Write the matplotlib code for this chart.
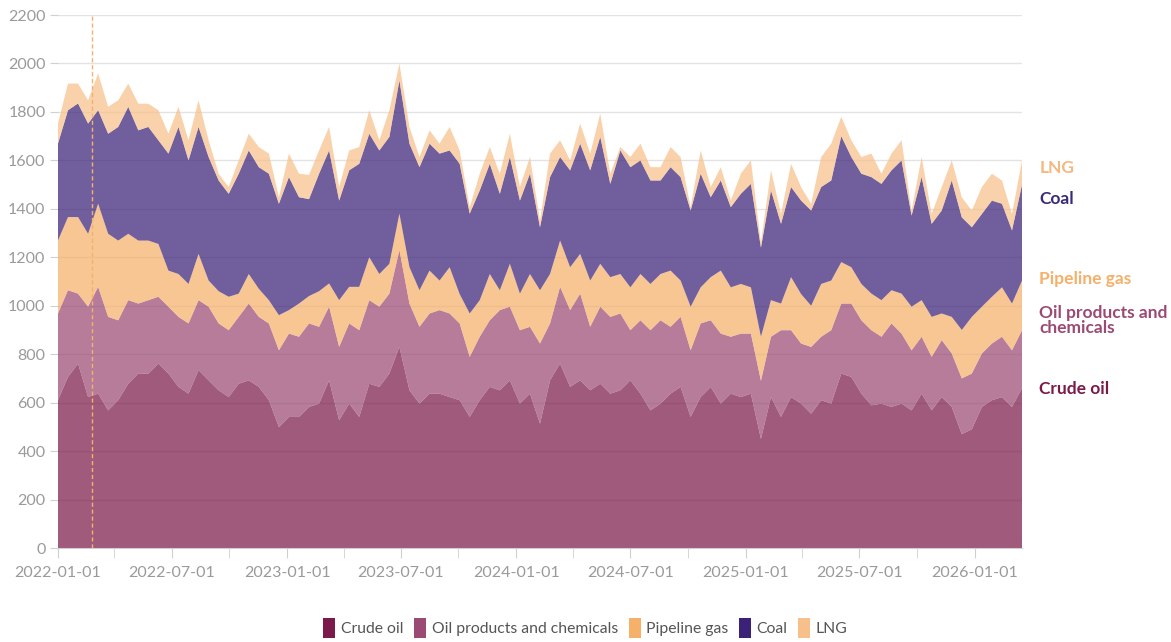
import numpy as np
import pandas as pd
import matplotlib
matplotlib.use('Agg')
import matplotlib.pyplot as plt
import matplotlib.dates as mdates
from matplotlib.patches import Patch

plt.rcParams['font.family'] = ['Lato', 'DejaVu Sans']

# Top edge of each stacked layer, every 16 days from 2022-01-01
crude_top = [610, 706, 761, 623, 637, 568, 610, 678, 720, 720, 761, 720, 665, 637, 734, 692,
             651, 623, 678, 692, 665, 610, 499, 541, 541, 582, 596, 692, 527, 596, 541, 678,
             665, 720, 830, 651, 596, 637, 637, 623, 610, 541, 610, 665, 651, 692, 596, 637,
             513, 692, 761, 665, 692, 651, 678, 637, 651, 692, 637, 568, 596, 637, 665, 541,
             623, 665, 596, 637, 623, 637, 450, 623, 541, 623, 596, 554, 610, 596, 720, 706,
             637, 589, 596, 582, 596, 568, 637, 568, 623, 582, 470, 490, 582, 610, 623, 582, 660]
products_top = [968, 1064, 1050, 996, 1078, 954, 940, 1023, 1009, 1023, 1037, 996, 954, 927, 1023, 996,
                927, 899, 954, 1009, 954, 927, 816, 885, 872, 927, 913, 996, 830, 927, 899, 1023,
                996, 1050, 1230, 1009, 913, 968, 982, 968, 927, 789, 872, 940, 982, 996, 899, 913,
                844, 927, 1078, 982, 1050, 913, 996, 954, 968, 899, 940, 899, 940, 913, 954, 816,
                927, 940, 885, 872, 885, 885, 690, 872, 899, 899, 844, 830, 872, 899, 1009, 1009,
                940, 899, 872, 927, 885, 816, 872, 789, 858, 803, 700, 720, 803, 844, 872, 816, 899]
pipeline_top = [1269, 1366, 1366, 1297, 1421, 1297, 1269, 1297, 1269, 1269, 1255, 1145, 1131, 1090, 1214, 1104,
                1060, 1037, 1050, 1131, 1070, 1023, 961, 982, 1009, 1040, 1060, 1092, 1023, 1078, 1078, 1200,
                1131, 1173, 1380, 1159, 1064, 1145, 1104, 1159, 1048, 968, 1023, 1131, 1064, 1173, 1050, 1131,
                1064, 1131, 1269, 1159, 1214, 1104, 1173, 1118, 1131, 1076, 1131, 1090, 1131, 1145, 1104, 996,
                1076, 1118, 1145, 1076, 1090, 1076, 872, 1023, 1009, 1118, 1048, 1000, 1090, 1104, 1180, 1159,
                1090, 1050, 1023, 1064, 1050, 996, 1023, 954, 968, 954, 900, 954, 996, 1037, 1076, 1009, 1104]
coal_top = [1669, 1807, 1835, 1752, 1807, 1710, 1738, 1821, 1724, 1738, 1683, 1628, 1738, 1600, 1738, 1614,
            1517, 1462, 1545, 1641, 1572, 1545, 1421, 1531, 1448, 1440, 1545, 1641, 1434, 1559, 1586, 1710,
            1641, 1697, 1930, 1669, 1572, 1669, 1628, 1641, 1586, 1380, 1476, 1586, 1462, 1614, 1434, 1545,
            1324, 1531, 1614, 1559, 1669, 1559, 1697, 1503, 1641, 1572, 1600, 1517, 1517, 1572, 1531, 1393,
            1545, 1448, 1517, 1407, 1462, 1503, 1240, 1476, 1338, 1490, 1434, 1393, 1490, 1517, 1700, 1614,
            1545, 1531, 1503, 1559, 1600, 1372, 1531, 1338, 1393, 1517, 1365, 1324, 1379, 1434, 1421, 1311, 1500]
lng_top = [1752, 1917, 1917, 1848, 1959, 1821, 1848, 1917, 1834, 1834, 1807, 1710, 1821, 1683, 1848, 1683,
           1545, 1490, 1600, 1710, 1655, 1628, 1448, 1628, 1545, 1540, 1641, 1738, 1490, 1641, 1655, 1807,
           1683, 1807, 2000, 1738, 1614, 1724, 1669, 1738, 1641, 1407, 1545, 1655, 1545, 1710, 1490, 1614,
           1352, 1628, 1683, 1600, 1752, 1628, 1793, 1545, 1655, 1614, 1669, 1572, 1572, 1655, 1614, 1407,
           1641, 1490, 1572, 1434, 1545, 1600, 1260, 1559, 1379, 1586, 1490, 1421, 1614, 1669, 1780, 1683,
           1614, 1628, 1545, 1628, 1683, 1393, 1614, 1379, 1490, 1600, 1448, 1393, 1490, 1545, 1517, 1379, 1600]

series_names = ['Crude oil', 'Oil products and chemicals', 'Pipeline gas', 'Coal', 'LNG']
colors = ['#7b1a4a', '#9a4a74', '#f5b06a', '#3b2178', '#f7c08a']
label_colors = ['#7b1a4a', '#9a4a74', '#f5b06a', '#3b2a78', '#f5b880']
label_y = [655, 940, 1110, 1440, 1570]

dates = pd.date_range('2022-01-01', periods=len(lng_top), freq='16D')
tops = np.array([crude_top, products_top, pipeline_top, coal_top, lng_top], dtype=float)
layers = np.vstack([tops[0], np.diff(tops, axis=0)])

fig = plt.figure(figsize=(11.71, 6.42), dpi=100)
ax = fig.add_axes([0.0495, 0.1464, 0.8233, 0.8302])

ax.yaxis.grid(True, color='#e3e3e3', lw=1)
ax.set_axisbelow(True)
ax.stackplot(dates, *layers, colors=colors, alpha=0.72, linewidth=0)

# invasion day marker
ax.axvline(pd.Timestamp('2022-02-24'), color='#f5b06a', lw=1, ls=(0, (3, 2)))

ax.set_xlim(dates[0], dates[-1])
ax.set_ylim(0, 2200)
ax.set_yticks(np.arange(0, 2201, 200))

ax.xaxis.set_major_locator(mdates.MonthLocator(bymonth=[1, 7]))
ax.xaxis.set_minor_locator(mdates.MonthLocator(bymonth=[4, 10]))
ax.xaxis.set_major_formatter(mdates.DateFormatter('%Y-%m-%d'))

for s in ['top', 'right', 'left']:
    ax.spines[s].set_visible(False)
ax.spines['bottom'].set_color('#d0d0d0')
ax.tick_params(axis='both', which='both', colors='#d0d0d0', labelcolor='#9a9a9a', labelsize=11.5)
ax.tick_params(axis='x', which='both', length=7, pad=6)
ax.tick_params(axis='y', length=6, pad=3)

for name, c, y in zip(series_names, label_colors, label_y):
    txt = 'Oil products and\nchemicals' if name.startswith('Oil') else name
    ax.text(1.018, y, txt, transform=ax.get_yaxis_transform(), color=c,
            fontsize=12.5, fontweight='bold', va='center', ha='left', linespacing=0.95)

handles = [Patch(facecolor=c, edgecolor='none') for c in colors]
fig.legend(handles, series_names, loc='lower center', bbox_to_anchor=(0.5, -0.016), ncol=5,
           frameon=False, fontsize=11.3, handlelength=0.75, handleheight=1.6,
           handletextpad=0.35, columnspacing=0.7, labelcolor='#555555')

fig.savefig('out.png', dpi=100)
